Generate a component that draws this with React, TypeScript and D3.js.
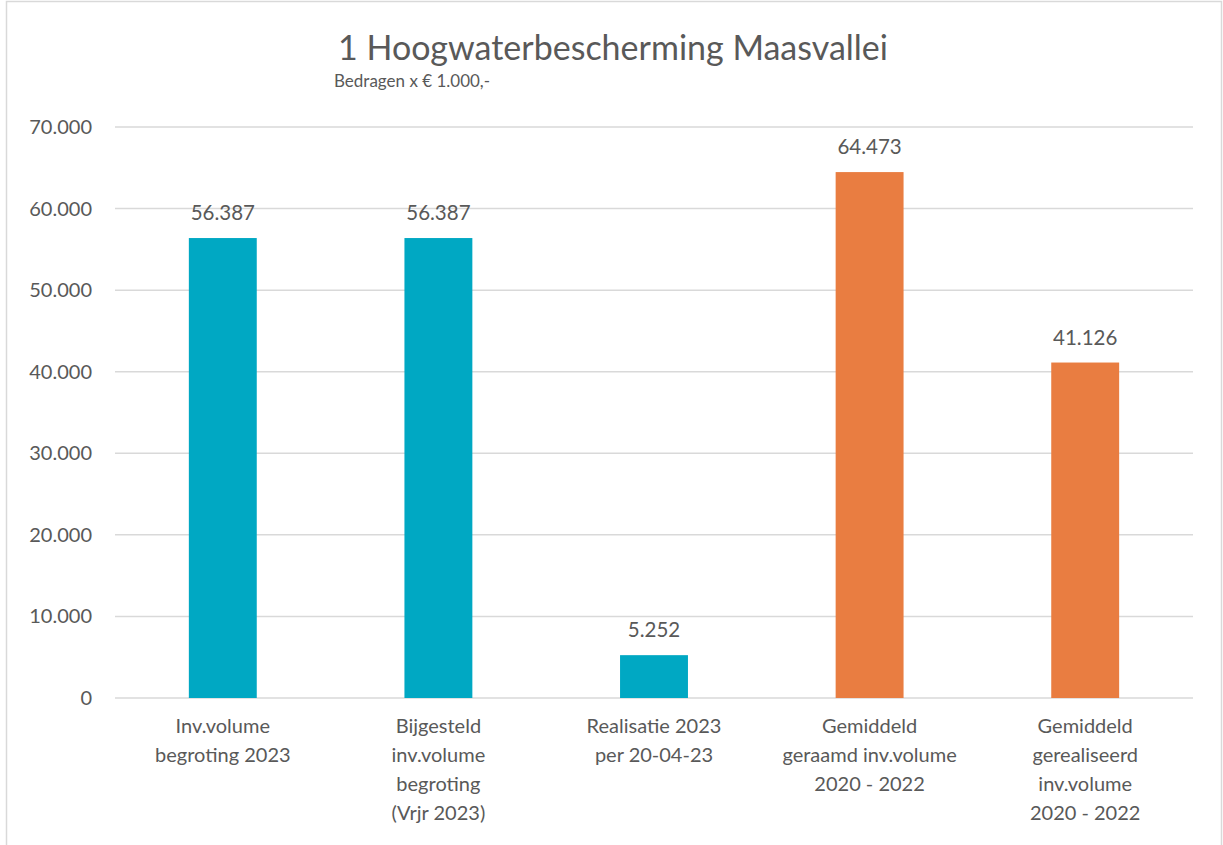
import React from 'react';
import * as d3 from 'd3';

// categories, split the way the chart wraps them
const categories = [
  ['Inv.volume', 'begroting 2023'],
  ['Bijgesteld', 'inv.volume', 'begroting', '(Vrjr 2023)'],
  ['Realisatie 2023', 'per 20-04-23'],
  ['Gemiddeld', 'geraamd inv.volume', '2020 - 2022'],
  ['Gemiddeld', 'gerealiseerd', 'inv.volume', '2020 - 2022'],
];
const values = [56387, 56387, 5252, 64473, 41126];
const groups = ['current', 'current', 'current', 'avg', 'avg'];
const yTicks = [0, 10000, 20000, 30000, 40000, 50000, 60000, 70000];

const title = '1 Hoogwaterbescherming Maasvallei';
const subtitle = 'Bedragen x € 1.000,-';

const W = 1223;
const H = 845;
const FONT = 'Lato, "Open Sans", sans-serif';
const TXT = '#595959';

const fmt = (v: number) => d3.format(',')(v).replace(/,/g, '.');

const App = () => {
  const x = d3
    .scaleBand<number>()
    .domain(d3.range(values.length))
    .range([115, 1193])
    .paddingInner(0.685)
    .paddingOuter(0.3425);
  const y = d3.scaleLinear().domain([0, 70000]).range([698, 127]);
  const color = d3.scaleOrdinal<string, string>().domain(['current', 'avg']).range(['#00A8C3', '#E97D41']);

  return (
    <svg width={W} height={H} style={{ position: 'absolute', left: 0, top: 0, background: '#fff' }} fontFamily={FONT}>
      <rect x={6.5} y={1.5} width={1215} height={H + 10} fill="#fff" stroke="#d9d9d9" strokeWidth={1.5} />

      <text x={613} y={60} textAnchor="middle" fontSize={34} fill={TXT}>{title}</text>
      <text x={334} y={87} fontSize={17} fill={TXT}>{subtitle}</text>

      {yTicks.map((t) => (
        <g key={t}>
          <line x1={115} x2={1193} y1={y(t)} y2={y(t)} stroke="#d9d9d9" strokeWidth={1.5} />
          <text x={92} y={y(t)} dy="0.35em" textAnchor="end" fontSize={20} fill={TXT}>{fmt(t)}</text>
        </g>
      ))}

      {values.map((v, i) => (
        <g key={i}>
          <rect x={x(i)} y={y(v)} width={x.bandwidth()} height={y(0) - y(v)} fill={color(groups[i])} />
          <text x={x(i)! + x.bandwidth() / 2} y={y(v) - 18} textAnchor="middle" fontSize={20.5} fill={TXT}>{fmt(v)}</text>
          {categories[i].map((line, j) => (
            <text key={j} x={x(i)! + x.bandwidth() / 2} y={733 + j * 29} textAnchor="middle" fontSize={20} fill={TXT}>{line}</text>
          ))}
        </g>
      ))}
    </svg>
  );
};

export default App;
